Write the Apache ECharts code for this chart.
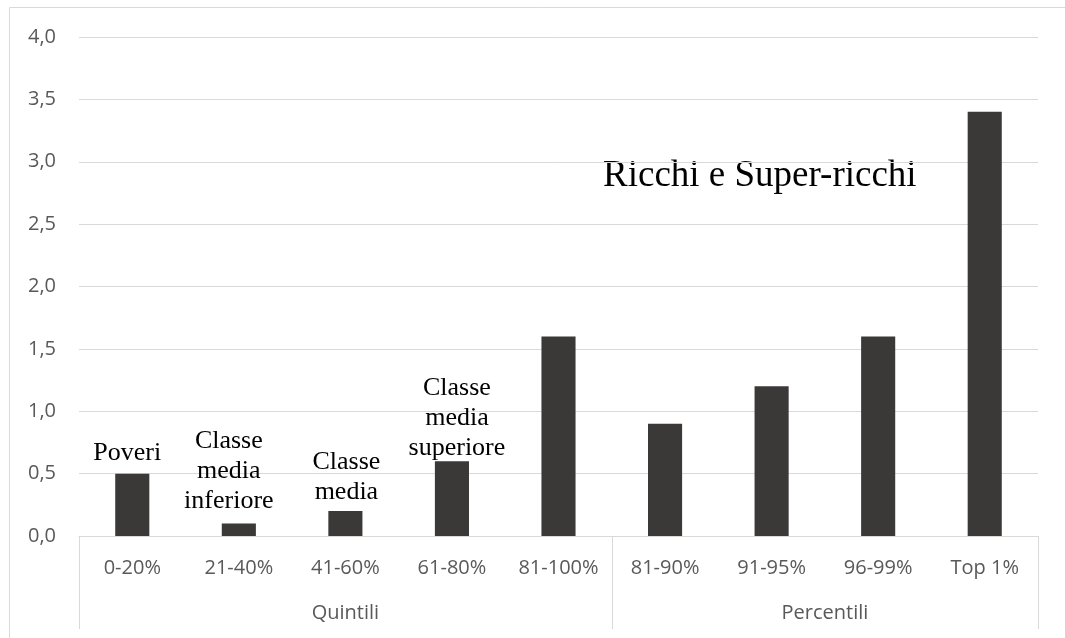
<!DOCTYPE html>
<html>
<head>
<meta charset="utf-8">
<script src="https://cdn.jsdelivr.net/npm/echarts@6/dist/echarts.min.js"></script>
<style>
  html, body { margin: 0; padding: 0; background: #fff; }
  #chart { width: 1065px; height: 638px; }
</style>
</head>
<body>
<div id="chart"></div>
<script>
// Categories (first level) and their values
const categories = ['0-20%', '21-40%', '41-60%', '61-80%', '81-100%', '81-90%', '91-95%', '96-99%', 'Top 1%'];
const values = [0.5, 0.1, 0.2, 0.6, 1.6, 0.9, 1.2, 1.6, 3.4];

// Second-level groups: names and how many categories each spans
const groupNames = ['Quintili', 'Percentili'];
const groupSizes = [5, 4];

// Text written above single bars
const barNotes = ['Poveri', 'Classe\nmedia\ninferiore', 'Classe\nmedia', 'Classe\nmedia\nsuperiore', '', '', '', '', ''];
const noteTitle = 'Ricchi e Super-ricchi';

// Y axis range
const yMin = 0, yMax = 4, yStep = 0.5;

// Small per-label nudges: [dx, distance]
const noteShift = [[-5, 5], [-10, 7], [1, 4], [5, -2], [0, 5], [0, 5], [0, 5], [0, 5], [0, 5]];

// Group boundaries and centres on a 0..N scale
const bounds = [0];
groupSizes.forEach(n => bounds.push(bounds[bounds.length - 1] + n));
const centres = groupSizes.map((n, i) => bounds[i] + n / 2);

const gridColor = '#d9d9d9';
const textColor = '#595959';
const axisFont = { fontFamily: 'Open Sans', fontSize: 20, color: textColor };
const serif = 'Liberation Serif';

const chart = echarts.init(document.getElementById('chart'), null, { renderer: 'canvas' });

chart.setOption({
  animation: false,
  backgroundColor: '#fff',
  grid: { left: 79, right: 27, top: 37, bottom: 102, containLabel: false },
  xAxis: [
    {
      type: 'category',
      data: categories,
      position: 'bottom',
      axisLine: { show: true, lineStyle: { color: gridColor, width: 1 } },
      axisTick: { show: false },
      axisLabel: Object.assign({ margin: 22, interval: 0 }, axisFont),
      splitLine: { show: false }
    },
    {
      type: 'value',
      min: 0,
      max: bounds[bounds.length - 1],
      position: 'bottom',
      axisLine: { show: false },
      splitLine: { show: false },
      axisTick: {
        show: true,
        customValues: bounds,
        length: 93,
        lineStyle: { color: gridColor, width: 1 }
      },
      axisLabel: Object.assign({
        margin: 67,
        customValues: centres,
        formatter: v => {
          const i = centres.findIndex(c => Math.abs(c - v) < 1e-6);
          return i >= 0 ? groupNames[i] : '';
        }
      }, axisFont)
    }
  ],
  yAxis: {
    type: 'value',
    min: yMin,
    max: yMax,
    interval: yStep,
    axisLine: { show: false },
    axisTick: { show: false },
    axisLabel: Object.assign({
      margin: 23,
      formatter: v => v.toFixed(1).replace('.', ',')
    }, axisFont),
    splitLine: { show: true, lineStyle: { color: gridColor, width: 1 } }
  },
  series: [
    {
      type: 'bar',
      xAxisIndex: 0,
      barWidth: '32%',
      itemStyle: { color: '#3b3838' },
      data: values.map((v, i) => ({
        value: v,
        label: {
          show: barNotes[i] !== '',
          position: 'top',
          distance: noteShift[i][1],
          offset: [noteShift[i][0], 0],
          formatter: () => barNotes[i],
          fontFamily: serif,
          fontSize: 26,
          lineHeight: 30,
          color: '#000',
          align: 'center'
        }
      }))
    }
  ],
  graphic: [
    {
      type: 'rect',
      silent: true,
      shape: { x: 9.5, y: 7.5, width: 1200, height: 800 },
      style: { fill: null, stroke: gridColor, lineWidth: 1 },
      z: -10
    },
    {
      type: 'text',
      left: 603,
      top: 158,
      style: {
        text: noteTitle,
        fontFamily: serif,
        fontSize: 37,
        fill: '#000'
      }
    }
  ]
});
</script>
</body>
</html>
